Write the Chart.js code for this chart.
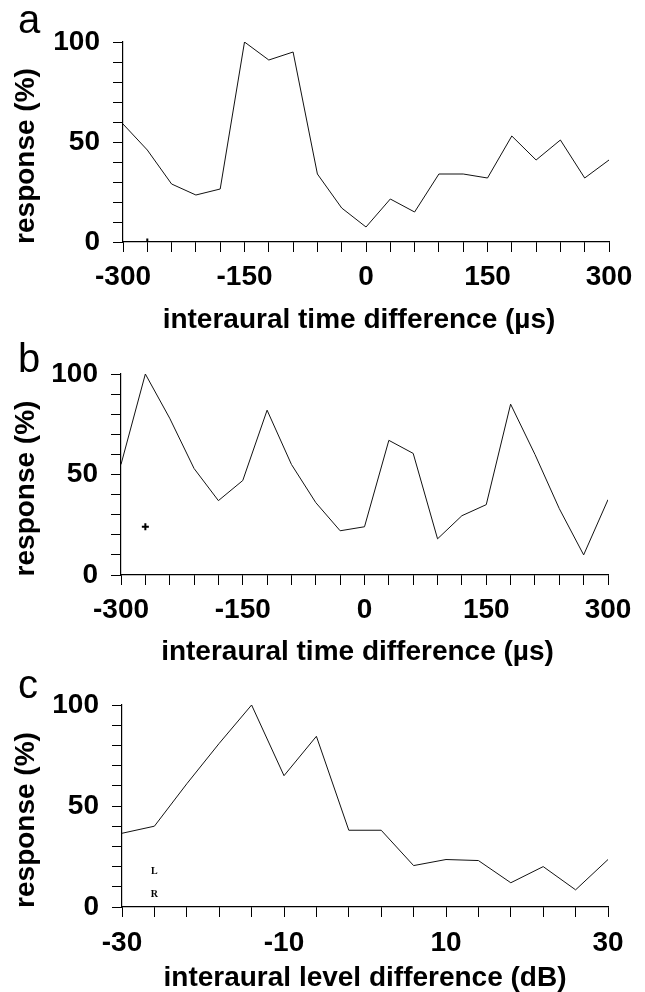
<!DOCTYPE html>
<html>
<head>
<meta charset="utf-8">
<script src="https://cdn.jsdelivr.net/npm/chart.js@4.4.1/dist/chart.umd.min.js"></script>
<style>
  html, body { margin: 0; padding: 0; background: #fff; }
  #wrap { position: relative; width: 645px; height: 992px; }
  canvas { position: absolute; left: 0; }
</style>
</head>
<body>
<div id="wrap">
  <canvas id="chartA" width="645" height="340" style="top:0px"></canvas>
  <canvas id="chartB" width="645" height="330" style="top:340px"></canvas>
  <canvas id="chartC" width="645" height="322" style="top:670px"></canvas>
</div>
<script>
// panel a - interaural time difference (us)
var itdA = [-300, -270, -240, -210, -180, -150, -120, -90, -60, -30, 0, 30, 60, 90, 120, 150, 180, 210, 240, 270, 300];
var respA = [59, 46, 29, 23.5, 26.5, 100, 91, 95, 34, 17, 7.5, 21.5, 15, 34, 34, 32, 53, 41, 51, 32, 41];
var markA = [{ x: -270, y: 0 }];

// panel b - interaural time difference (us)
var itdB = [-300, -270, -240, -210, -180, -150, -120, -90, -60, -30, 0, 30, 60, 90, 120, 150, 180, 210, 240, 270, 300];
var respB = [55, 100, 78, 53, 37, 47, 82, 55, 36, 22, 24, 67, 60.5, 18, 29.5, 35, 85, 60, 33, 10, 37.5];
var markB = [{ x: -270, y: 24 }];

// panel c - interaural level difference (dB)
var ildC = [-30, -26, -22, -18, -14, -10, -6, -2, 2, 6, 10, 14, 18, 22, 26, 30];
var respC = [36.5, 40, 61, 81, 100, 65, 84.5, 38, 38, 20.5, 23.5, 23, 12, 20, 8.5, 23.5];
var noteC = [{ x: -26, y: 17.5, text: 'L' }, { x: -26, y: 6, text: 'R' }];

var yTicks = [0, 50, 100];
var fontFam = '"Liberation Sans", Arial, Helvetica, sans-serif';

function pts(xs, ys) {
  return xs.map(function (x, i) { return { x: x, y: ys[i] }; });
}

// panel letter and the small L / R stimulus marks
var notesPlugin = {
  id: 'notes',
  afterDraw: function (chart, args, opts) {
    var ctx = chart.ctx;
    ctx.save();
    ctx.fillStyle = '#000';
    ctx.font = '40px ' + fontFam;
    ctx.textAlign = 'left';
    ctx.textBaseline = 'alphabetic';
    ctx.fillText(opts.letter, 18, opts.letterY);
    (opts.marks || []).forEach(function (m) {
      var px = chart.scales.x.getPixelForValue(m.x);
      var py = chart.scales.y.getPixelForValue(m.y);
      ctx.font = 'bold 10px "Liberation Serif", serif';
      ctx.textAlign = 'center';
      ctx.textBaseline = 'middle';
      ctx.fillText(m.text, px, py);
    });
    ctx.restore();
  }
};

function makePanel(id, p) {
  var ctx = document.getElementById(id).getContext('2d');
  var datasets = [{
    type: 'line',
    data: pts(p.xs, p.ys),
    borderColor: '#111',
    borderWidth: 1,
    pointRadius: 0,
    tension: 0,
    fill: false
  }];
  if (p.marks) {
    datasets.push({
      type: 'scatter',
      data: p.marks,
      pointStyle: 'cross',
      pointRadius: 3.5,
      borderWidth: 2,
      borderColor: '#000'
    });
  }
  return new Chart(ctx, {
    type: 'line',
    data: { datasets: datasets },
    plugins: [notesPlugin],
    options: {
      responsive: false,
      animation: false,
      events: [],
      layout: { padding: { left: 0, right: p.right, top: p.top, bottom: 0 } },
      plugins: {
        legend: { display: false },
        tooltip: { enabled: false },
        notes: { letter: p.letter, letterY: p.letterY, marks: p.notes }
      },
      scales: {
        x: {
          type: 'linear',
          min: p.xs[0],
          max: p.xs[p.xs.length - 1],
          afterBuildTicks: function (s) {
            s.ticks = p.xs.map(function (v) { return { value: v }; });
          },
          afterFit: function (s) { s.height = p.xHeight; },
          grid: { drawOnChartArea: false, drawTicks: true, tickLength: 10, color: '#000', lineWidth: 1 },
          border: { display: true, color: '#000', width: 1.2 },
          ticks: {
            autoSkip: false,
            maxRotation: 0,
            padding: p.xTickPad,
            color: '#000',
            font: { family: fontFam, size: 28, weight: 'bold', lineHeight: 1 },
            callback: function (v) { return p.xLabels.indexOf(v) >= 0 ? String(v) : ''; }
          },
          title: {
            display: true,
            text: p.xTitle,
            color: '#000',
            font: { family: fontFam, size: 28, weight: 'bold', lineHeight: 1 },
            padding: { top: 0, bottom: p.xTitlePad }
          }
        },
        y: {
          type: 'linear',
          min: 0,
          max: 100,
          afterFit: function (s) { s.width = p.left; },
          grid: { drawOnChartArea: false, drawTicks: true, tickLength: 10, color: '#000', lineWidth: 1 },
          border: { display: true, color: '#000', width: 1.2 },
          ticks: {
            stepSize: 10,
            autoSkip: false,
            padding: 13,
            color: '#000',
            font: { family: fontFam, size: 28, weight: 'bold', lineHeight: 1 },
            callback: function (v) { return yTicks.indexOf(v) >= 0 ? String(v) : ''; }
          },
          title: {
            display: true,
            text: 'response (%)\u2003',
            color: '#000',
            font: { family: fontFam, size: 28, weight: 'bold', lineHeight: 1.2 },
            padding: { top: 9, bottom: 0 }
          }
        }
      }
    }
  });
}

makePanel('chartA', {
  xs: itdA, ys: respA, marks: markA, xLabels: [-300, -150, 0, 150, 300],
  xTitle: 'interaural time difference (\u00b5s)\u2002',
  left: 123, right: 36, top: 42, xHeight: 98, xTickPad: 11, xTitlePad: 6,
  letter: 'a', letterY: 33
});

makePanel('chartB', {
  xs: itdB, ys: respB, marks: markB, xLabels: [-300, -150, 0, 150, 300],
  xTitle: 'interaural time difference (\u00b5s)\u2002',
  left: 121, right: 37, top: 34, xHeight: 95, xTickPad: 11, xTitlePad: 4,
  letter: 'b', letterY: 32
});

makePanel('chartC', {
  xs: ildC, ys: respC, xLabels: [-30, -10, 10, 30], notes: noteC,
  xTitle: 'interaural level difference (dB)',
  left: 122, right: 37, top: 35, xHeight: 85, xTickPad: 12, xTitlePad: 0,
  letter: 'c', letterY: 28
});
</script>
</body>
</html>
